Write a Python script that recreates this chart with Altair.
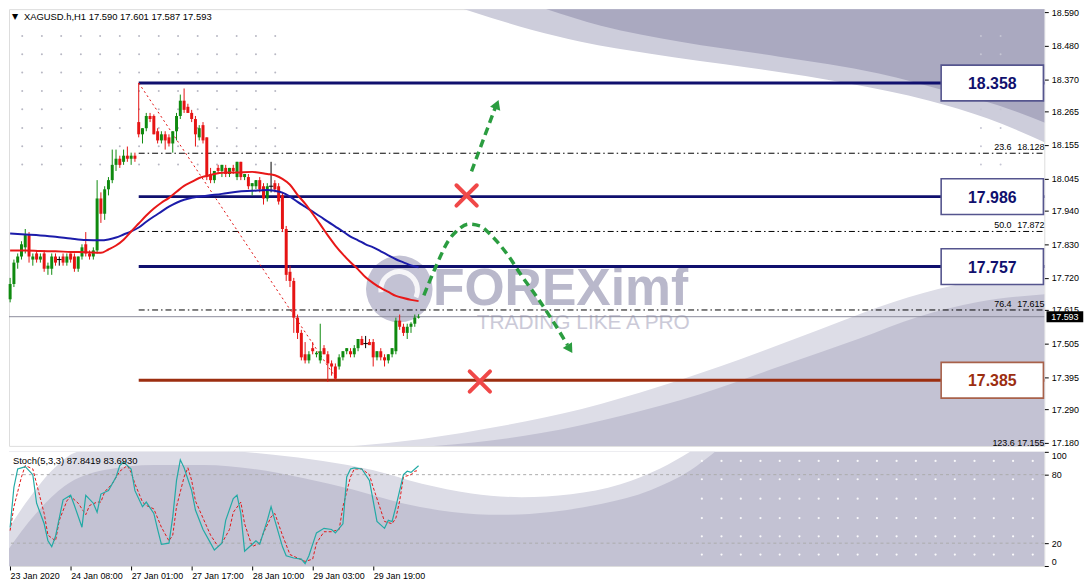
import altair as alt
import pandas as pd

alt.data_transformers.disable_max_rows()

FONT = "Liberation Sans"
SYMBOL = "XAGUSD.h,H1"

# ---------------- axis labels ----------------
time_labels = ["23 Jan 2020", "24 Jan 08:00", "27 Jan 01:00", "27 Jan 17:00",
               "28 Jan 10:00", "29 Jan 03:00", "29 Jan 19:00"]
time_label_bars = [0, 16, 32, 48, 64, 80, 96]
price_ticks = [18.590, 18.480, 18.370, 18.265, 18.155, 18.045, 17.940, 17.830,
               17.720, 17.615, 17.505, 17.395, 17.290, 17.180]
stoch_ticks = [0, 20, 80, 100]

# ---------------- H1 candles (bar 0 .. 108) ----------------
opens = [17.65, 17.70, 17.77, 17.79, 17.82, 17.86, 17.78, 17.80, 17.78, 17.80,
         17.75, 17.75, 17.79, 17.78, 17.79, 17.77, 17.80, 17.79, 17.75, 17.79,
         17.83, 17.80, 17.79, 17.81, 17.98, 17.93, 18.01, 18.04, 18.09, 18.11,
         18.10, 18.12, 18.11, 18.12,
         18.23, 18.19, 18.21, 18.25, 18.25, 18.20, 18.17, 18.19, 18.18, 18.16,
         18.20, 18.25, 18.30, 18.28, 18.26, 18.24, 18.18, 18.22, 18.18, 18.06,
         18.04, 18.08, 18.07, 18.08, 18.06, 18.08, 18.05, 18.10, 18.05, 18.05,
         18.02, 18.02, 18.04, 18.02, 17.98, 18.02, 18.03, 18.02,
         17.99, 17.88, 17.74, 17.71, 17.59, 17.54, 17.47, 17.45, 17.49, 17.47,
         17.45, 17.49, 17.47, 17.44, 17.43, 17.43, 17.46, 17.48, 17.48, 17.47,
         17.49, 17.52, 17.505, 17.51, 17.51, 17.46, 17.48, 17.46, 17.45, 17.47,
         17.48, 17.58, 17.56, 17.54, 17.56, 17.57, 17.590]
highs = [17.72, 17.78, 17.80, 17.84, 17.88, 17.87, 17.80, 17.81, 17.80, 17.81,
         17.77, 17.80, 17.80, 17.79, 17.80, 17.80, 17.80, 17.80, 17.79, 17.83,
         17.87, 17.81, 17.82, 18.04, 18.00, 18.02, 18.05, 18.14, 18.14, 18.12,
         18.14, 18.15, 18.13, 18.13,
         18.358, 18.21, 18.26, 18.26, 18.255, 18.21, 18.20, 18.20, 18.19, 18.20,
         18.26, 18.32, 18.34, 18.29, 18.27, 18.25, 18.22, 18.23, 18.18, 18.08,
         18.07, 18.09, 18.09, 18.09, 18.08, 18.09, 18.10, 18.10, 18.06, 18.06,
         18.03, 18.04, 18.05, 18.03, 18.03, 18.10, 18.04, 18.03,
         18.00, 17.89, 17.76, 17.72, 17.60, 17.55, 17.51, 17.48, 17.51, 17.48,
         17.57, 17.50, 17.48, 17.45, 17.44, 17.47, 17.48, 17.49, 17.49, 17.50,
         17.52, 17.53, 17.53, 17.52, 17.52, 17.48, 17.49, 17.47, 17.47, 17.49,
         17.59, 17.60, 17.57, 17.57, 17.575, 17.60, 17.601]
lows = [17.64, 17.69, 17.75, 17.78, 17.80, 17.77, 17.76, 17.77, 17.77, 17.74,
        17.73, 17.73, 17.76, 17.76, 17.76, 17.76, 17.77, 17.74, 17.74, 17.78,
        17.79, 17.78, 17.78, 17.80, 17.90, 17.91, 17.99, 18.03, 18.07, 18.08,
        18.09, 18.10, 18.09, 18.10,
        18.18, 18.16, 18.20, 18.23, 18.19, 18.16, 18.16, 18.14, 18.15, 18.13,
        18.17, 18.24, 18.26, 18.26, 18.23, 18.15, 18.17, 18.16, 18.04, 18.03,
        18.03, 18.06, 18.05, 18.05, 18.05, 18.06, 18.04, 18.04, 18.04, 18.01,
        17.99, 18.01, 18.00, 17.96, 17.97, 18.00, 18.00, 17.96,
        17.87, 17.71, 17.69, 17.54, 17.52, 17.45, 17.44, 17.44, 17.47, 17.46,
        17.44, 17.47, 17.38, 17.40, 17.385, 17.42, 17.45, 17.47, 17.46, 17.46,
        17.48, 17.50, 17.49, 17.50, 17.43, 17.45, 17.45, 17.43, 17.44, 17.46,
        17.47, 17.55, 17.53, 17.52, 17.54, 17.56, 17.587]
closes = [17.70, 17.77, 17.79, 17.83, 17.86, 17.79, 17.79, 17.78, 17.79, 17.75,
          17.76, 17.79, 17.77, 17.78, 17.77, 17.79, 17.78, 17.75, 17.79, 17.82,
          17.80, 17.79, 17.81, 17.98, 17.93, 18.01, 18.04, 18.09, 18.11, 18.09,
          18.12, 18.11, 18.12, 18.11,
          18.19, 18.21, 18.25, 18.24, 18.19, 18.17, 18.19, 18.17, 18.16, 18.20,
          18.25, 18.30, 18.27, 18.26, 18.24, 18.19, 18.21, 18.17, 18.05, 18.04,
          18.07, 18.07, 18.09, 18.06, 18.08, 18.07, 18.10, 18.05, 18.06, 18.02,
          18.03, 18.04, 18.01, 17.98, 18.02, 18.02, 18.01, 17.97,
          17.88, 17.73, 17.71, 17.59, 17.54, 17.46, 17.45, 17.47, 17.48, 17.475,
          17.48, 17.47, 17.44, 17.43, 17.39, 17.46, 17.48, 17.49, 17.47, 17.49,
          17.52, 17.50, 17.505, 17.50, 17.46, 17.48, 17.46, 17.45, 17.47, 17.49,
          17.58, 17.56, 17.54, 17.56, 17.57, 17.59, 17.593]

# ---------------- moving averages ----------------
ma_fast_bar = [0, 4, 8, 12, 16, 20, 24, 26, 28, 30, 32, 34, 36, 38, 40, 42, 44, 46, 48, 50,
               52, 56, 60, 64, 68, 70, 72, 74, 76, 78, 80, 82, 84, 86, 88, 90, 92, 94, 96,
               98, 100, 102, 104, 106, 108]
ma_fast_val = [17.810, 17.810, 17.808, 17.807, 17.805, 17.804, 17.802, 17.813, 17.826, 17.845,
               17.872, 17.898, 17.924, 17.947, 17.966, 17.982, 18.002, 18.021, 18.034, 18.047,
               18.054, 18.064, 18.065, 18.067, 18.060, 18.056, 18.044, 18.025, 17.992, 17.963,
               17.930, 17.895, 17.859, 17.826, 17.797, 17.771, 17.748, 17.722, 17.703, 17.687,
               17.674, 17.661, 17.654, 17.648, 17.644]
ma_slow_bar = [0, 4, 8, 12, 16, 20, 24, 26, 28, 30, 32, 34, 36, 38, 40, 42, 44, 46, 48, 52,
               56, 60, 64, 68, 70, 72, 74, 76, 78, 80, 82, 84, 86, 88, 90, 92, 94, 96, 98,
               100, 102, 104, 106, 108]
ma_slow_val = [17.865, 17.862, 17.859, 17.855, 17.849, 17.844, 17.843, 17.846, 17.852, 17.862,
               17.872, 17.885, 17.904, 17.921, 17.937, 17.953, 17.966, 17.976, 17.982, 17.989,
               17.995, 18.002, 18.005, 18.008, 18.005, 17.999, 17.986, 17.969, 17.953, 17.937,
               17.921, 17.904, 17.888, 17.872, 17.855, 17.843, 17.830, 17.820, 17.807, 17.794,
               17.781, 17.771, 17.761, 17.755]

# ---------------- stochastic (5,3,3) ----------------
stoch_k_bar = [0, 1, 2, 3, 4, 6, 7, 9, 10, 11, 12, 14, 16, 17, 19, 20, 22, 23, 24, 26, 28, 29,
               30, 32, 33, 35, 36, 38, 39, 40, 42, 43, 44, 45, 46, 48, 49, 51, 53, 54, 56, 57,
               59, 60, 61, 62, 63, 65, 66, 68, 69, 70, 72, 73, 75, 77, 78, 79, 81, 83, 85, 86,
               88, 89, 90, 91, 93, 95, 96, 97, 99, 100, 101, 102, 104, 105, 106, 108]
stoch_k_val = [34, 69, 85, 86, 87, 80, 55, 37, 22, 17, 26, 58, 62, 53, 34, 62, 55, 47, 63, 66,
               78, 88, 91, 85, 66, 52, 56, 46, 32, 19, 20, 43, 75, 93, 86, 66, 49, 32, 20, 14,
               20, 40, 59, 62, 46, 13, 16, 22, 19, 40, 52, 40, 17, 9, 7, 6, 2, 9, 29, 33, 32,
               29, 37, 78, 85, 86, 85, 75, 57, 39, 33, 40, 39, 52, 80, 83, 82, 87.8419]
stoch_d_bar = [0, 1, 3, 4, 6, 7, 9, 10, 12, 13, 15, 16, 18, 20, 21, 23, 24, 25, 27, 29, 31, 32,
               33, 35, 36, 38, 40, 42, 43, 44, 46, 47, 48, 49, 51, 53, 55, 56, 58, 59, 61, 62,
               64, 66, 67, 69, 70, 72, 74, 76, 78, 80, 81, 83, 85, 87, 88, 90, 91, 93, 95, 96,
               98, 99, 101, 102, 103, 104, 106, 107, 108]
stoch_d_val = [31, 52, 78, 88, 85, 72, 46, 27, 22, 40, 57, 61, 55, 45, 53, 56, 56, 65, 72, 83,
               88, 82, 72, 56, 53, 50, 34, 22, 27, 52, 78, 86, 75, 57, 42, 27, 17, 20, 32, 47,
               56, 37, 17, 20, 29, 43, 46, 27, 10, 7, 4, 6, 20, 30, 30, 32, 52, 78, 85, 85,
               80, 69, 49, 39, 37, 42, 57, 78, 80, 83, 83.6930]

# ---------------- levels / fibonacci ----------------
level_prices = [18.358, 17.986, 17.757, 17.385]
level_roles = ["resistance", "resistance", "resistance", "support"]
level_start_bar = 34
fib_pcts = ["23.6", "50.0", "76.4"]
fib_prices = [18.128, 17.872, 17.615]
fib_ext_pct = "123.6"
fib_ext_price = 17.155
swing_bars = [34, 86.5]
swing_prices = [18.358, 17.385]
last_price = 17.593

# ---------------- scenario drawings ----------------
arrow_up_bar = [122.0, 128.3]
arrow_up_price = [18.069, 18.278]
arrow_up_head = (128.7, 18.288)
arrow_curve_bar = [109.4, 112.3, 115.9, 118.6, 121.2, 124.2, 127.3, 131.7, 135.2, 139.6, 143.9, 147.4]
arrow_curve_price = [17.663, 17.749, 17.842, 17.879, 17.896, 17.890, 17.858, 17.793, 17.728,
                     17.652, 17.571, 17.500]
arrow_curve_head = (148.0, 17.487)
cross_bars = [120.7, 124.2]
cross_prices = [17.990, 17.381]

# ---------------- FOREXimf template background ----------------
bg_top_light_bar = [119.9, 127.3, 137.8, 150.9, 169.3, 195.5, 221.8, 242.8, 258.5, 274.0]
bg_top_light_price = [18.600, 18.571, 18.532, 18.493, 18.454, 18.408, 18.356, 18.301, 18.242, 18.161]
bg_top_dark_bar = [141.7, 156.2, 177.2, 203.4, 229.7, 248.0, 261.2, 274.0]
bg_top_dark_price = [18.600, 18.545, 18.493, 18.444, 18.389, 18.330, 18.285, 18.226]
bg_bot_light_bar = [85.3, 108.9, 129.9, 150.9, 171.9, 192.9, 213.9, 229.7, 245.4, 261.2, 274.0]
bg_bot_light_price = [17.164, 17.193, 17.235, 17.290, 17.365, 17.453, 17.550, 17.625, 17.684, 17.723, 17.745]
bg_bot_dark_bar = [103.7, 122.0, 140.4, 161.4, 182.4, 203.4, 224.4, 240.2, 255.9, 274.0]
bg_bot_dark_price = [17.164, 17.180, 17.212, 17.268, 17.339, 17.430, 17.521, 17.593, 17.641, 17.667]
dot_cols_left = [3.2, 8.4, 13.5, 18.7, 23.8, 29.0, 34.1, 39.3, 44.4, 49.6, 54.7, 59.9, 65.0, 70.1]
dot_cols_right = [256.7, 261.9]
dot_rows = [18.512, 18.452, 18.392, 18.332, 18.272, 18.211, 18.151, 18.091]
stoch_band_bar = [-1, 6.6, 14.4, 24.9, 38.1, 51.2, 64.3, 77.4, 90.6, 103.7, 116.8, 129.9, 143.0,
                  156.2, 169.3, 179.8, 186.4]
stoch_band_val = [12.0, 45.0, 70.0, 84.0, 88.5, 88.5, 85.0, 77.0, 67.0, 55.0, 47.4, 44.8, 47.4,
                  54.3, 66.4, 83.6, 100]
stoch_white_bar = [-1, 5.2, 11.8, 18.4, 59.1, 69.6, 82.7, 95.8, 108.9, 122.0, 135.2, 148.3,
                   161.4, 171.9, 179.8]
stoch_white_val = [30.0, 60.0, 86.0, 100, 100, 97.5, 92.0, 84.0, 72.0, 63.5, 60.3, 62.9, 71.6, 85.3, 100]
stoch_dot_cols = [182.9, 188.1, 193.2, 198.4, 203.5, 208.7, 213.8, 218.9, 224.1, 229.2, 234.4,
                  239.5, 244.7, 249.8, 255.0, 260.1, 265.2, 270.4]
stoch_dot_rows = [92, 76, 59, 42, 26, 10]
logo_pos = (102.9, 17.684)
brand_pos = (111.8, 17.632)
slogan_pos = (123.4, 17.552)
box_center_bar = 259.7
fib_pct_bar = 264.8
fib_val_bar = 273.5
tag_bar = 278.9

# ---------------- scales ----------------
X_MIN = -0.3
X_MAX = X_MIN + 1043 / 3.81
P_MAX = 18.5997
P_MIN = P_MAX - 440 * 0.003249

XS = alt.Scale(domain=[X_MIN, X_MAX], nice=False, zero=False)
YS = alt.Scale(domain=[P_MIN, P_MAX], nice=False, zero=False)
SS = alt.Scale(domain=[0, 100], nice=False, zero=False)

y_axis = alt.Axis(orient="right", values=price_ticks, format=".3f", title=None, grid=False,
                  domain=False, tickSize=4, tickColor="#000", labelColor="#000",
                  labelFont=FONT, labelFontSize=9, labelPadding=3)
label_expr = "[" + ",".join("'%s'" % t for t in time_labels) + "][round(datum.value / 16)]"
x_axis = alt.Axis(values=time_label_bars, labelExpr=label_expr, orient="bottom", title=None,
                  grid=False, domain=False, tickSize=4, tickColor="#000", labelAlign="left",
                  labelBaseline="top", labelPadding=2, labelOffset=0, labelFont=FONT,
                  labelFontSize=9, labelColor="#000", labelOverlap=False, labelFlush=False,
                  labelBound=False)
s_axis = alt.Axis(orient="right", values=stoch_ticks, format="d", title=None, grid=False,
                  domain=False, tickSize=4, tickColor="#000", labelColor="#000", labelFont=FONT,
                  labelFontSize=9, labelPadding=3, labelFlush=True)


def X(f):
    return alt.X(f, type="quantitative", scale=XS, axis=None)


def Y(f):
    return alt.Y(f, type="quantitative", scale=YS, axis=y_axis)


def SX(f):
    return alt.X(f, type="quantitative", scale=XS, axis=x_axis)


def SY(f):
    return alt.Y(f, type="quantitative", scale=SS, axis=s_axis)


def top_area(bars, prices, color):
    df = pd.DataFrame({"i": bars, "b": prices})
    return alt.Chart(df).mark_area(color=color, clip=True, interpolate="monotone").encode(
        x=X("i"), y=Y("b"), y2=alt.datum(18.9))


def bottom_area(bars, prices, color):
    df = pd.DataFrame({"i": bars, "b": prices})
    return alt.Chart(df).mark_area(color=color, clip=True, interpolate="monotone").encode(
        x=X("i"), y=Y("b"), y2=alt.datum(16.9))


GREEN = "#0f8a0f"
RED = "#e61414"
NAVY = "#10106e"
BROWN = "#9c2e10"

# ---------------- main panel ----------------
candles = pd.DataFrame({"i": list(range(len(opens))), "o": opens, "h": highs, "l": lows, "c": closes})
col_expr = "datum.c > datum.o ? '%s' : (datum.c < datum.o ? '%s' : '#000000')" % (GREEN, RED)

wick = alt.Chart(candles).transform_calculate(col=col_expr).mark_rule(strokeWidth=1).encode(
    x=X("i"), y=Y("l"), y2="h", color=alt.Color("col:N", scale=None))
body = alt.Chart(candles).transform_filter("datum.o != datum.c").transform_calculate(
    col=col_expr).mark_rule(strokeWidth=3).encode(
    x=X("i"), y=Y("o"), y2="c", color=alt.Color("col:N", scale=None))
doji = alt.Chart(candles).transform_filter("datum.o == datum.c").transform_calculate(
    a="datum.i - 0.6", b="datum.i + 0.6").mark_rule(strokeWidth=1, color="#000").encode(
    x=X("a"), x2="b", y=Y("o"))

dots_left = alt.Chart(pd.DataFrame([{"i": a, "p": b} for a in dot_cols_left for b in dot_rows])).mark_circle(
    size=4, color="#b8b8c4", opacity=1).encode(x=X("i"), y=Y("p"))
dots_right = alt.Chart(pd.DataFrame([{"i": a, "p": b} for a in dot_cols_right for b in dot_rows])).mark_circle(
    size=4, color="#c6c6d4", opacity=1).encode(x=X("i"), y=Y("p"))

logo = alt.Chart(pd.DataFrame({"i": [logo_pos[0]], "p": [logo_pos[1]]})).mark_point(
    shape="circle", filled=True, size=4500, color="#c3c2d4", opacity=1).encode(x=X("i"), y=Y("p"))
logo_cut = alt.Chart(pd.DataFrame({"i": [logo_pos[0]], "p": [logo_pos[1]]})).mark_point(
    shape="M-0.55,0.1A0.55,0.55,0,1,1,0.5,0.25", filled=False, size=4500, color="#ffffff",
    strokeWidth=5, opacity=0.85).encode(x=X("i"), y=Y("p"))
brand = alt.Chart(pd.DataFrame({"i": [brand_pos[0]], "p": [brand_pos[1]], "t": ["FOREXimf"]})).mark_text(
    font=FONT, fontSize=52, fontWeight="bold", color="#b9b8cb", align="left", baseline="alphabetic").encode(
    x=X("i"), y=Y("p"), text="t:N")
slogan = alt.Chart(pd.DataFrame({"i": [slogan_pos[0]], "p": [slogan_pos[1]], "t": ["TRADING LIKE A PRO"]})).mark_text(
    font=FONT, fontSize=21, color="#cbcad8", align="left", baseline="alphabetic").encode(
    x=X("i"), y=Y("p"), text="t:N")

last_rule = alt.Chart(pd.DataFrame({"p": [last_price]})).mark_rule(color="#8c8c9c", strokeWidth=1).encode(y=Y("p"))

fib_df = pd.DataFrame({"p": fib_prices + [fib_ext_price]})
fib_rules = alt.Chart(fib_df).mark_rule(color="#000", strokeWidth=1, strokeDash=[6, 3, 1.5, 3], clip=True).encode(
    x=alt.datum(level_start_bar, scale=XS, axis=None, type="quantitative"), x2=alt.datum(X_MAX), y=Y("p"))

lvl_df = pd.DataFrame({"p": level_prices, "role": level_roles,
                       "t": ["%.3f" % v for v in level_prices]})
lvl_col = "datum.role == 'support' ? '%s' : '%s'" % (BROWN, NAVY)
box_col = "datum.role == 'support' ? '#a8614a' : '#55558e'"
level_rules = alt.Chart(lvl_df).transform_calculate(col=lvl_col).mark_rule(strokeWidth=3).encode(
    x=alt.datum(level_start_bar, scale=XS, axis=None, type="quantitative"), x2=alt.datum(X_MAX), y=Y("p"),
    color=alt.Color("col:N", scale=None))

swing = alt.Chart(pd.DataFrame({"i": swing_bars, "p": swing_prices})).mark_line(
    color="#e01010", strokeWidth=1, strokeDash=[2, 3]).encode(x=X("i"), y=Y("p"))

ma_slow = alt.Chart(pd.DataFrame({"i": ma_slow_bar, "p": ma_slow_val})).mark_line(
    color="#1c1caa", strokeWidth=2, interpolate="monotone").encode(x=X("i"), y=Y("p"))
ma_fast = alt.Chart(pd.DataFrame({"i": ma_fast_bar, "p": ma_fast_val})).mark_line(
    color="#e81818", strokeWidth=2, interpolate="monotone").encode(x=X("i"), y=Y("p"))

ARROW_GREEN = "#2b9d40"
arrow_up = alt.Chart(pd.DataFrame({"i": arrow_up_bar, "p": arrow_up_price})).mark_line(
    color=ARROW_GREEN, strokeWidth=3.5, strokeDash=[8, 5]).encode(x=X("i"), y=Y("p"))
arrow_up_tip = alt.Chart(pd.DataFrame({"i": [arrow_up_head[0]], "p": [arrow_up_head[1]]})).mark_point(
    shape="triangle-up", filled=True, size=120, color=ARROW_GREEN, opacity=1, angle=21).encode(x=X("i"), y=Y("p"))
arrow_curve = alt.Chart(pd.DataFrame({"i": arrow_curve_bar, "p": arrow_curve_price})).mark_line(
    color=ARROW_GREEN, strokeWidth=3.5, strokeDash=[8, 5], interpolate="monotone").encode(x=X("i"), y=Y("p"))
arrow_curve_tip = alt.Chart(pd.DataFrame({"i": [arrow_curve_head[0]], "p": [arrow_curve_head[1]]})).mark_point(
    shape="triangle-up", filled=True, size=120, color=ARROW_GREEN, opacity=1, angle=148).encode(x=X("i"), y=Y("p"))
crosses = alt.Chart(pd.DataFrame({"i": cross_bars, "p": cross_prices})).mark_point(
    shape="M-1,-1L1,1M1,-1L-1,1", filled=False, size=420, color="#f04848", strokeWidth=4,
    strokeCap="round", opacity=1).encode(x=X("i"), y=Y("p"))

boxes = alt.Chart(lvl_df).transform_calculate(col=box_col, bx=str(box_center_bar)).mark_point(
    shape="M-1,-0.35H1V0.35H-1Z", filled=True, fill="white", size=103 * 103, strokeWidth=1.6,
    opacity=1, fillOpacity=1).encode(x=X("bx:Q"), y=Y("p"), stroke=alt.Stroke("col:N", scale=None))
box_text = alt.Chart(lvl_df).transform_calculate(col=lvl_col, bx=str(box_center_bar)).mark_text(
    font=FONT, fontSize=16, fontWeight="bold", align="center", baseline="middle", dy=1).encode(
    x=X("bx:Q"), y=Y("p"), text="t:N", color=alt.Color("col:N", scale=None))

fib_lbl_df = pd.DataFrame({"p": fib_prices, "pct": fib_pcts, "v": ["%.3f" % v for v in fib_prices]})
fib_pct_text = alt.Chart(fib_lbl_df).transform_calculate(bx=str(fib_pct_bar)).mark_text(
    font=FONT, fontSize=9, color="#000", align="right", baseline="bottom", dy=-1).encode(
    x=X("bx:Q"), y=Y("p"), text="pct:N")
fib_val_text = alt.Chart(fib_lbl_df).transform_calculate(bx=str(fib_val_bar)).mark_text(
    font=FONT, fontSize=9, color="#000", align="right", baseline="bottom", dy=-1).encode(
    x=X("bx:Q"), y=Y("p"), text="v:N")
fib_ext_text = alt.Chart(pd.DataFrame({"p": [fib_ext_price], "t": ["%s %.3f" % (fib_ext_pct, fib_ext_price)]})).transform_calculate(
    bx=str(fib_val_bar)).mark_text(font=FONT, fontSize=9, color="#000", align="right", baseline="bottom", dy=-3).encode(
    x=X("bx:Q"), y=Y("p"), text="t:N")

tag_df = pd.DataFrame({"p": [last_price], "t": ["%.3f" % last_price]})
tag_box = alt.Chart(tag_df).transform_calculate(bx=str(tag_bar)).mark_point(
    shape="M-1,-0.3H1V0.3H-1Z", filled=True, size=37 * 37, color="#000", opacity=1).encode(x=X("bx:Q"), y=Y("p"))
tag_text = alt.Chart(tag_df).transform_calculate(bx=str(tag_bar)).mark_text(
    font=FONT, fontSize=9, color="#fff", align="center", baseline="middle").encode(x=X("bx:Q"), y=Y("p"), text="t:N")

header_str = "%s  %.3f %.3f %.3f %.3f" % (SYMBOL, opens[-1], highs[-1], lows[-1], closes[-1])
header_tri = alt.Chart(pd.DataFrame({"t": ["\u25bc"]})).mark_text(
    font="DejaVu Sans", fontSize=8, color="#000", align="left", baseline="middle").encode(
    x=alt.value(3), y=alt.value(8), text="t:N")
header = alt.Chart(pd.DataFrame({"t": [header_str]})).mark_text(
    font=FONT, fontSize=9.5, color="#000", align="left", baseline="middle").encode(
    x=alt.value(15), y=alt.value(8), text="t:N")

main = alt.layer(
    top_area(bg_top_light_bar, bg_top_light_price, "#cdcddb"),
    top_area(bg_top_dark_bar, bg_top_dark_price, "#aaa9c0"),
    bottom_area(bg_bot_light_bar, bg_bot_light_price, "#dddde7"),
    bottom_area(bg_bot_dark_bar, bg_bot_dark_price, "#c3c2d3"),
    dots_left, dots_right, logo, logo_cut, brand, slogan,
    last_rule, fib_rules, level_rules, swing,
    wick, body, doji, ma_slow, ma_fast,
    arrow_up, arrow_up_tip, arrow_curve, arrow_curve_tip, crosses,
    boxes, box_text, fib_pct_text, fib_val_text, fib_ext_text,
    tag_box, tag_text, header_tri, header,
).properties(width=1043, height=440)

# ---------------- stochastic panel ----------------
st_base = alt.Chart(pd.DataFrame({"i": [X_MIN - 1, X_MAX + 1], "lo": [-5, -5]})).mark_area(
    color="#c3c2d3", clip=True).encode(x=SX("i"), y=SY("lo"), y2=alt.datum(105))
st_band = alt.Chart(pd.DataFrame({"i": stoch_band_bar, "v": stoch_band_val})).mark_area(
    color="#dcdce6", clip=True, interpolate="monotone").encode(x=SX("i"), y=SY("v"), y2=alt.datum(105))
st_white = alt.Chart(pd.DataFrame({"i": stoch_white_bar, "v": stoch_white_val})).mark_area(
    color="#ffffff", clip=True, interpolate="monotone").encode(x=SX("i"), y=SY("v"), y2=alt.datum(105))
st_dots = alt.Chart(pd.DataFrame([{"i": a, "v": b} for a in stoch_dot_cols for b in stoch_dot_rows])).mark_circle(
    size=5, color="#ffffff", opacity=0.9).encode(x=SX("i"), y=SY("v"))
st_levels = alt.Chart(pd.DataFrame({"v": [80, 20]})).mark_rule(
    color="#ababab", strokeWidth=1, strokeDash=[3, 3]).encode(y=SY("v"))
st_d = alt.Chart(pd.DataFrame({"i": stoch_d_bar, "v": stoch_d_val})).mark_line(
    color="#e01818", strokeWidth=1, strokeDash=[3, 2]).encode(x=SX("i"), y=SY("v"))
st_k = alt.Chart(pd.DataFrame({"i": stoch_k_bar, "v": stoch_k_val})).mark_line(
    color="#22aaa5", strokeWidth=1.2).encode(x=SX("i"), y=SY("v"))
st_label = alt.Chart(pd.DataFrame({"t": ["Stoch(5,3,3) %.4f %.4f" % (stoch_k_val[-1], stoch_d_val[-1])]})).mark_text(
    font=FONT, fontSize=9.5, color="#000", align="left", baseline="middle").encode(
    x=alt.value(4), y=alt.value(9), text="t:N")

stoch = alt.layer(st_base, st_band, st_white, st_dots, st_levels, st_d, st_k, st_label).properties(
    width=1043, height=115)

chart = alt.vconcat(main, stoch, spacing=2).resolve_scale(
    x="independent", y="independent", color="independent", stroke="independent"
).properties(
    padding={"left": -3, "top": -3, "right": 0, "bottom": 0}
).configure_view(stroke="#000", strokeWidth=1).configure(background="white")

chart.save("out.html", embed_options={"renderer": "svg", "actions": False})
